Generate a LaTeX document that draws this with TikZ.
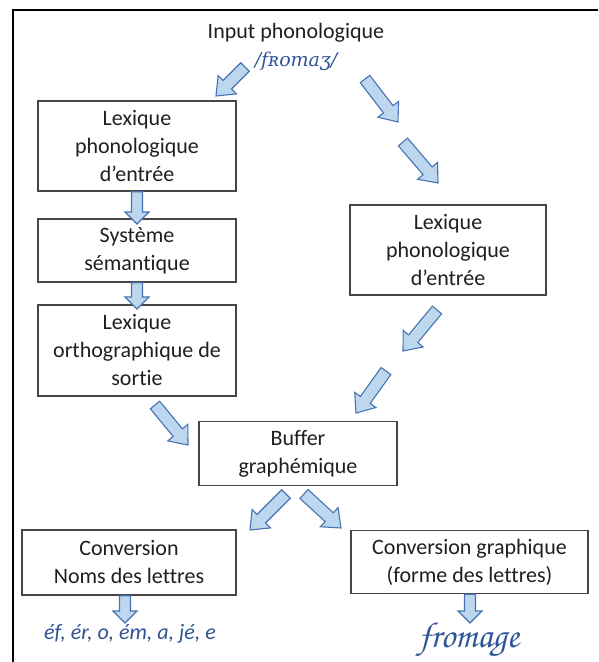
\documentclass[tikz,border=0pt]{standalone}
\usepackage{fontspec}
\setmainfont{Carlito}[Ligatures=NoCommon]
\newfontfamily\ipafont{DejaVu Serif}
\newfontfamily\chorus{texgyrechorus-mediumitalic.otf}
\usetikzlibrary{calc}
\definecolor{boxline}{RGB}{70,70,70}
\definecolor{arrfill}{RGB}{189,215,238}
\definecolor{arrline}{RGB}{72,114,178}
\definecolor{txtblue}{RGB}{46,84,150}
\newcommand{\blockarrow}[5]{%
  \coordinate (hb-#1-#2) at ($(#2)!#5!(#1)$);
  \draw[arrowshape] ($(#1)!#3!90:(#2)$) -- ($(hb-#1-#2)!#3!90:(#2)$) -- ($(hb-#1-#2)!#4!90:(#2)$) -- (#2) -- ($(hb-#1-#2)!#4!-90:(#2)$) -- ($(hb-#1-#2)!#3!-90:(#2)$) -- ($(#1)!#3!-90:(#2)$) -- cycle;
}
\tikzset{
  box/.style={draw=boxline, line width=1.4pt, align=center, font=\fontsize{22}{28}\selectfont, text=black!88, inner sep=0pt},
  arrowshape/.style={draw=arrline, fill=arrfill, line width=1.1pt, line join=miter},
  lbl/.style={font=\fontsize{22}{28}\selectfont, text=black!88, inner sep=0pt},
}
\begin{document}
\begin{tikzpicture}[x=1pt,y=-1pt]
\useasboundingbox (0,0) rectangle (598,662);
\draw[line width=2.4pt] (13,662) -- (13,10) -- (598,10);

\node[lbl] (input) at (296,33) {Input phonologique};
\node[inner sep=0pt, text=txtblue, font=\fontsize{19}{22}\ipafont\itshape] (ipa) at (296,61) {/fʀomaʒ/};

\node[box, minimum width=198pt, minimum height=90pt] (lpe) at (137,146) {Lexique\\phonologique\\d’entrée};
\node[box, minimum width=198pt, minimum height=63pt] (sem) at (137,250.5) {Système\\sémantique};
\node[box, minimum width=198pt, minimum height=91pt] (los) at (137,350.5) {Lexique\\orthographique de\\sortie};
\node[box, minimum width=196pt, minimum height=90pt] (lpe2) at (448,250) {Lexique\\phonologique\\d’entrée};
\node[box, minimum width=198pt, minimum height=64pt] (buf) at (298,453.5) {Buffer\\graphémique};
\node[box, minimum width=214pt, minimum height=65pt] (cnl) at (129,562.5) {Conversion\\Noms des lettres};
\node[box, minimum width=237pt, minimum height=63pt] (cgr) at (469.5,562) {Conversion graphique\\(forme des lettres)};

\node[inner sep=0pt, text=txtblue, font=\fontsize{22}{26}\selectfont\itshape] (letters) at (130,634) {éf, ér, o, ém, a, jé, e};
\node[inner sep=0pt, text=txtblue, font=\fontsize{36}{40}\chorus] (fromage) at (469,640) {fromage};

\coordinate (t1) at (245,67);  \coordinate (h1) at (216,96);
\coordinate (t2) at (365,79);  \coordinate (h2) at (398,122);
\coordinate (t3) at (403,142); \coordinate (h3) at (438,183);
\coordinate (t4) at (lpe.south); \coordinate (h4) at (137,224);
\coordinate (t5) at (sem.south); \coordinate (h5) at (137,309);
\coordinate (t6) at (437,310); \coordinate (h6) at (403,351);
\coordinate (t7) at (386,371); \coordinate (h7) at (356,413);
\coordinate (t8) at (155,405); \coordinate (h8) at (188,445);
\coordinate (t9) at (286,494); \coordinate (h9) at (250,530);
\coordinate (t10) at (304,494); \coordinate (h10) at (341,528);
\coordinate (x11) at (125,600); \coordinate (t11) at (x11 |- cnl.south); \coordinate (h11) at (125,623);
\coordinate (x12) at (470,600); \coordinate (t12) at (x12 |- cgr.south); \coordinate (h12) at (470,623);

\blockarrow{t1}{h1}{6pt}{13pt}{16pt}
\blockarrow{t2}{h2}{6pt}{13pt}{16pt}
\blockarrow{t3}{h3}{6pt}{13pt}{16pt}
\blockarrow{t4}{h4}{5.5pt}{12pt}{12pt}
\blockarrow{t5}{h5}{5.5pt}{12pt}{12pt}
\blockarrow{t6}{h6}{6pt}{13pt}{16pt}
\blockarrow{t7}{h7}{6pt}{13pt}{16pt}
\blockarrow{t8}{h8}{6pt}{13pt}{16pt}
\blockarrow{t9}{h9}{6pt}{13pt}{16pt}
\blockarrow{t10}{h10}{6pt}{13pt}{16pt}
\blockarrow{t11}{h11}{5.5pt}{12pt}{12pt}
\blockarrow{t12}{h12}{5.5pt}{12pt}{12pt}
\end{tikzpicture}
\end{document}
